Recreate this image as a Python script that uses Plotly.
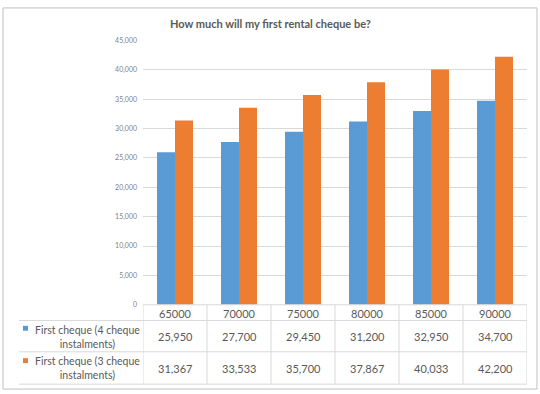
import plotly.graph_objects as go

W, H = 540, 394
categories = ["65000", "70000", "75000", "80000", "85000", "90000"]
series_names = ["First cheque (4 cheque<br>instalments)", "First cheque (3 cheque<br>instalments)"]
four_cheque = [25950, 27700, 29450, 31200, 32950, 34700]
three_cheque = [31367, 33533, 35700, 37867, 40033, 42200]
colors = ["#5B9BD5", "#ED7D31"]
title = "How much will my first rental cheque be?"

def px(x):
    return x / W

def py(y):
    return 1 - y / H

FONT = "Lato"
TXT = "#595959"
GRID = "#d9d9d9"

fig = go.Figure()
for name, vals, col in zip(series_names, [four_cheque, three_cheque], colors):
    fig.add_trace(go.Bar(x=categories, y=vals, name=name.replace("<br>", " "),
                         marker=dict(color=col, line=dict(width=0))))

x0, x1 = 143, 527
ytop, y0 = 36, 306
fig.update_layout(
    width=W, height=H,
    margin=dict(l=0, r=0, t=0, b=0),
    paper_bgcolor="white", plot_bgcolor="white",
    barmode="group", bargap=0.4375, bargroupgap=0,
    showlegend=False,
    font=dict(family=FONT, color=TXT),
    xaxis=dict(type="category", domain=[px(x0), px(x1)], showticklabels=False, showgrid=False,
               zeroline=False, showline=False, ticks="", range=[-0.5, 5.5]),
    yaxis=dict(domain=[py(y0), py(ytop)], range=[0, 45000], dtick=5000,
               tickformat=",", showgrid=True, gridcolor=GRID, gridwidth=1,
               zeroline=False, showline=False, ticks="",
               tickfont=dict(size=7, color="#7f7f7f", family=FONT),
               ticklabelstandoff=5),
)

shapes = []
# outer chart border
shapes.append(dict(type="rect", xref="paper", yref="paper", x0=px(3), x1=px(537),
                   y0=py(392), y1=py(3), line=dict(color="#bfbfbf", width=1)))
# table lines
row_lines = [322, 354, 387]
tbl_left = 19
shapes.append(dict(type="line", xref="paper", yref="paper", x0=px(x0), x1=px(x1),
                   y0=py(y0), y1=py(y0), line=dict(color=GRID, width=1)))
for yy in row_lines:
    shapes.append(dict(type="line", xref="paper", yref="paper", x0=px(tbl_left), x1=px(x1),
                       y0=py(yy), y1=py(yy), line=dict(color=GRID, width=1)))
for i in range(len(categories) + 1):
    shapes.append(dict(type="line", xref="x", yref="paper", x0=i - 0.5, x1=i - 0.5,
                       y0=py(387), y1=py(y0), line=dict(color=GRID, width=1)))
# legend keys
key_y = [330, 363]
for col, ky in zip(colors, key_y):
    shapes.append(dict(type="rect", xref="paper", yref="paper", x0=px(23), x1=px(28),
                       y0=py(ky + 2.5), y1=py(ky - 2.5), fillcolor=col, line=dict(width=0)))

annotations = []
annotations.append(dict(text="<b>" + title + "</b>", xref="paper", yref="paper",
                        x=px(270), y=py(19), showarrow=False,
                        font=dict(size=11, color=TXT, family=FONT),
                        xanchor="center", yanchor="middle"))
for i, c in enumerate(categories):
    annotations.append(dict(text=c, xref="x", yref="paper", x=i, y=py(314.5),
                            showarrow=False, font=dict(size=11, color=TXT, family=FONT),
                            xanchor="center", yanchor="middle"))
row_centers = [338.5, 371]
for name, vals, rc in zip(series_names, [four_cheque, three_cheque], row_centers):
    annotations.append(dict(text=name, xref="paper", yref="paper", x=px(87), y=py(rc),
                            showarrow=False, align="center",
                            font=dict(size=10.5, color=TXT, family=FONT),
                            xanchor="center", yanchor="middle"))
    for i, v in enumerate(vals):
        annotations.append(dict(text=f"{v:,}", xref="x", yref="paper", x=i, y=py(rc),
                                showarrow=False, font=dict(size=11, color=TXT, family=FONT),
                                xanchor="center", yanchor="middle"))

fig.update_layout(shapes=shapes, annotations=annotations)
fig.write_html("out.html", post_script="document.body.style.margin='0';",
               config={"displayModeBar": False})
